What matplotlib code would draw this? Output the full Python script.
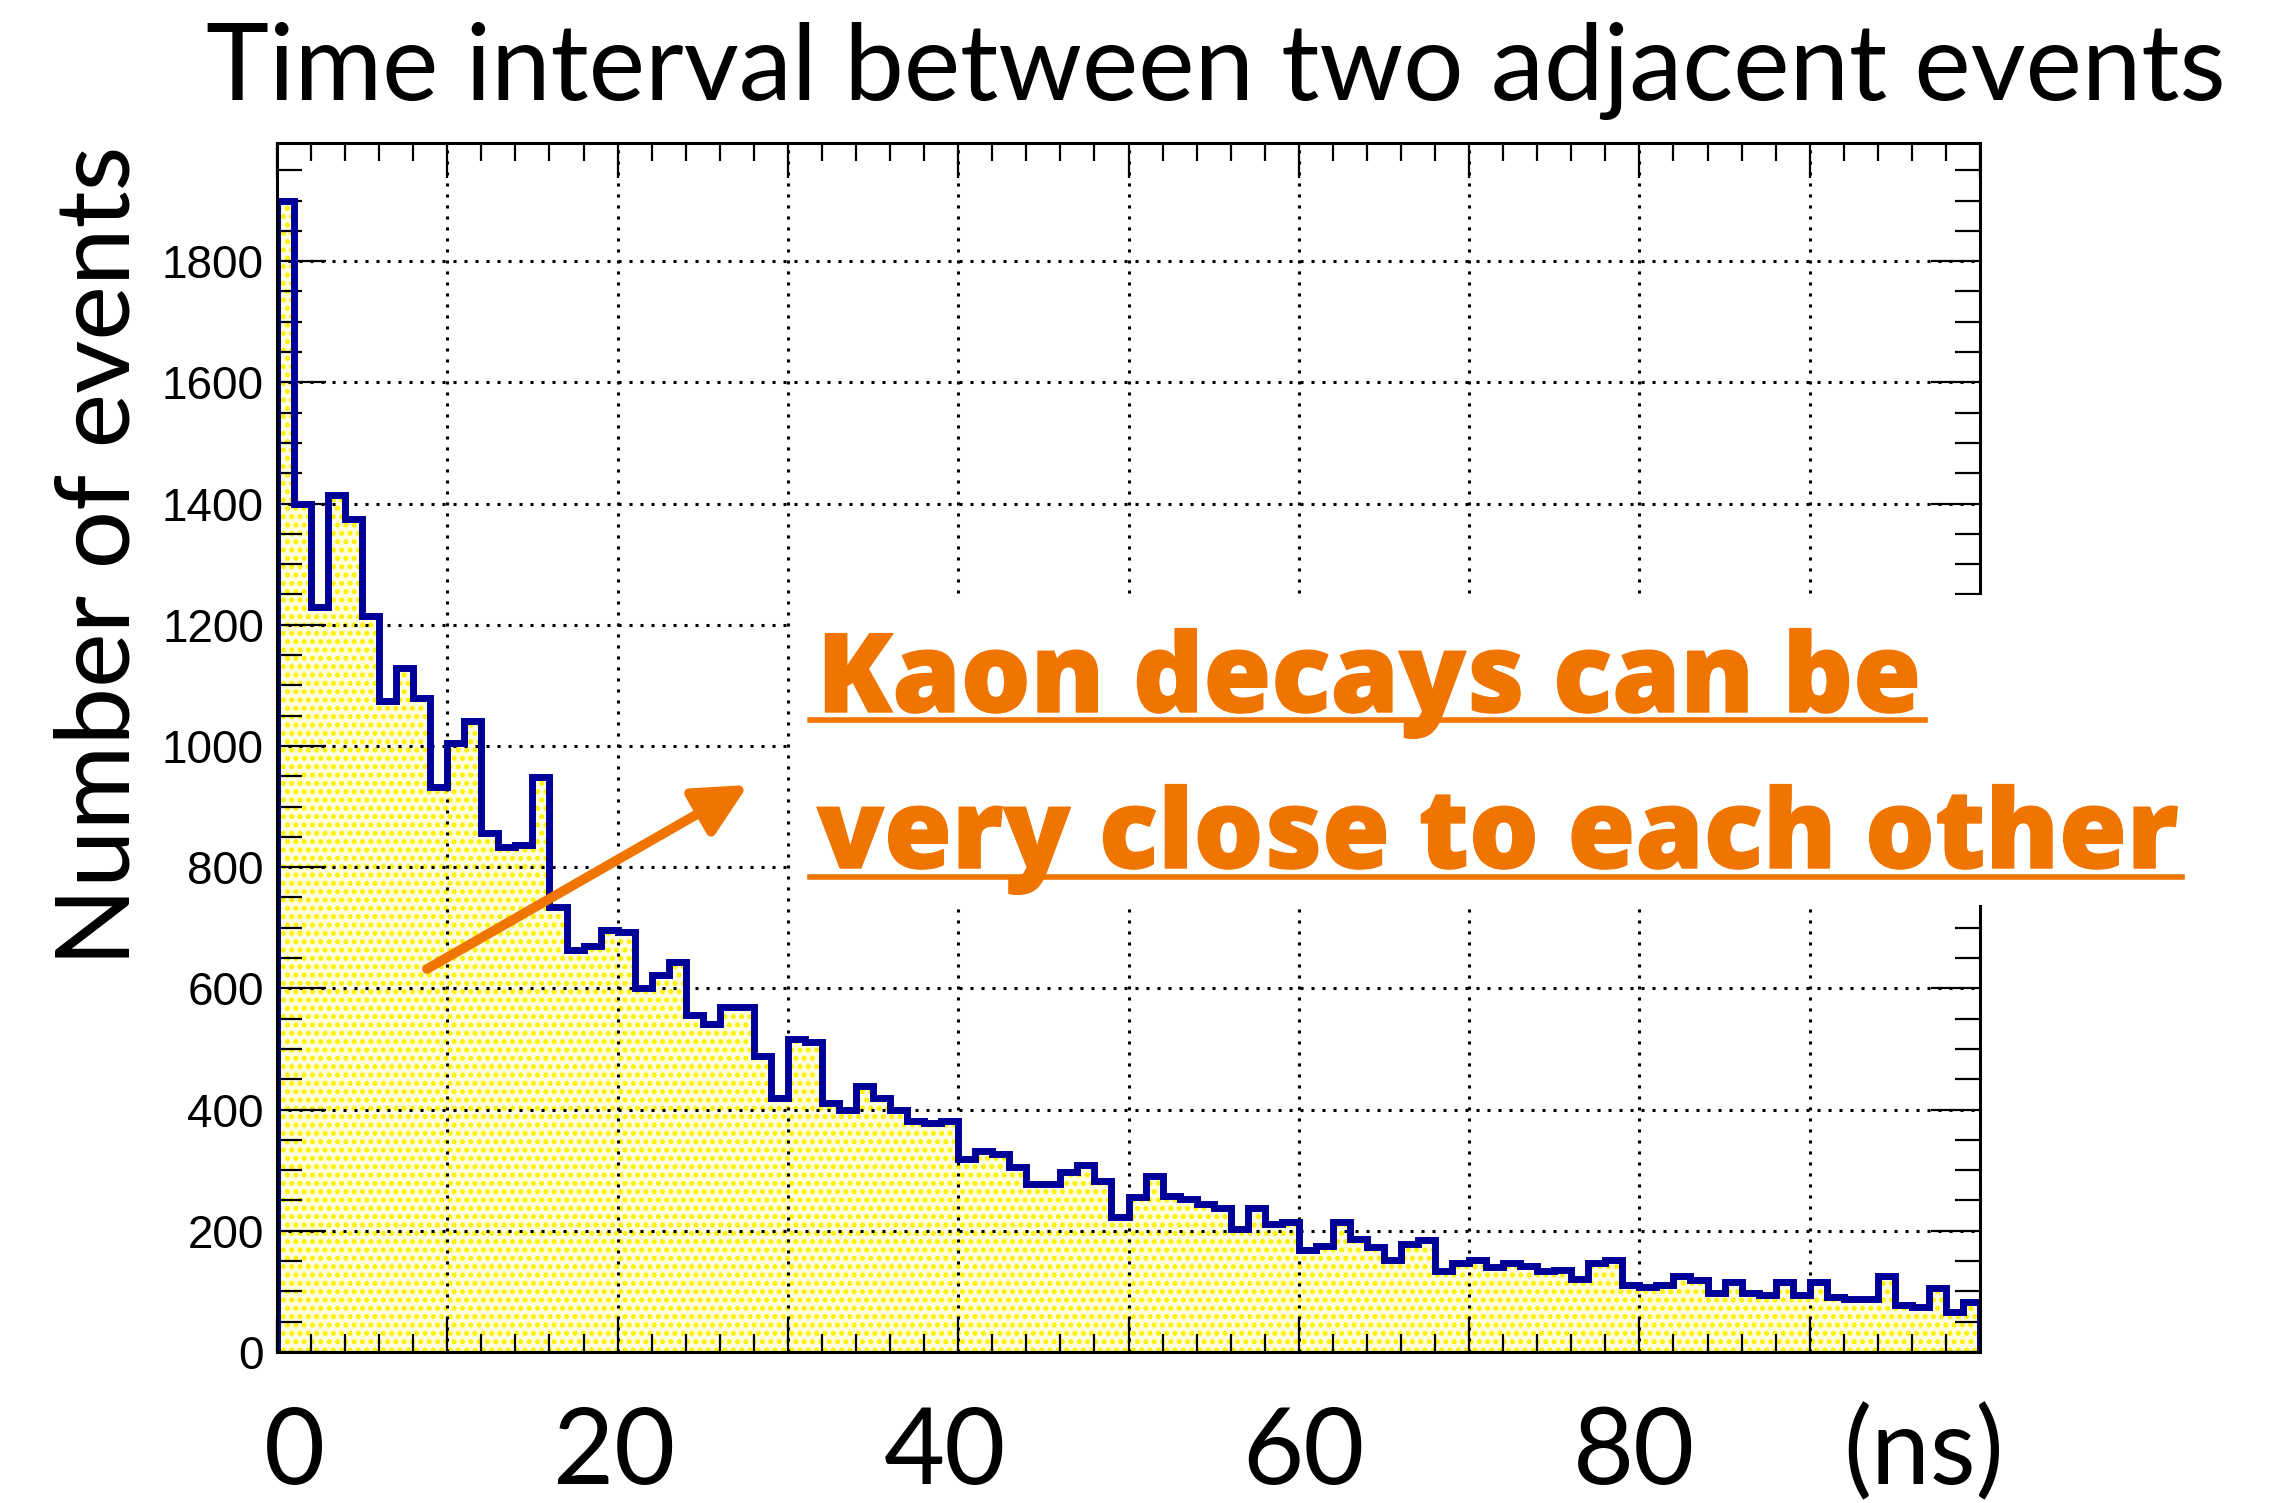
import numpy as np
import matplotlib.pyplot as plt
from matplotlib.ticker import MultipleLocator
from matplotlib.patches import Rectangle, FancyArrowPatch
from matplotlib.lines import Line2D
import matplotlib.transforms as mtransforms
import matplotlib.patheffects as pe

# # **data (1 ns bins, 0-100 ns)**

bin_edges = np.arange(0, 101, 1)
counts = [1900, 1400, 1230, 1414, 1375, 1214, 1075, 1128, 1080, 932,
          1005, 1042, 856, 834, 836, 948, 734, 663, 670, 697,
          693, 600, 622, 643, 556, 541, 569, 569, 489, 419,
          517, 511, 411, 400, 439, 419, 400, 381, 378, 381,
          319, 331, 327, 306, 278, 278, 297, 308, 282, 223,
          256, 290, 258, 252, 245, 237, 203, 237, 211, 214,
          168, 175, 214, 186, 173, 151, 178, 185, 134, 147,
          152, 141, 147, 142, 133, 135, 121, 147, 151, 111,
          108, 110, 125, 118, 97, 116, 97, 94, 116, 94,
          116, 91, 88, 87, 125, 78, 74, 106, 66, 82]
y_ticks = [0, 200, 400, 600, 800, 1000, 1200, 1400, 1600, 1800]
x_labels = ['0', '20', '40', '60', '80', '(ns)']
x_label_pos = [1.0, 19.8, 39.2, 60.3, 79.7, 96.7]

title = 'Time interval between two adjacent events'
ylabel = 'Number of events'
note = ['Kaon decays can be', 'very close to each other']

# # **figure layout (pixel coords of the reference)**

W, H = 2295, 1503
def fx(px):
    return px / W
def fy(py):
    return 1 - py / H

orange = '#F07500'
navy = '#000099'

plt.rcParams['hatch.linewidth'] = 2.4

fig = plt.figure(figsize=(W / 100, H / 100), dpi=100)
ax = fig.add_axes([fx(277), fy(1352), fx(1980) - fx(277), fy(143) - fy(1352)])

ax.stairs(counts, bin_edges, fill=True, facecolor='#FFFFE0', edgecolor='#FFF000',
          hatch='..', linewidth=0, zorder=1)
ax.stairs(counts, bin_edges, fill=False, color=navy, linewidth=5, zorder=2)

ax.set_xlim(0, 100)
ax.set_ylim(0, 1.05 * max(counts))

ax.set_xticks(np.arange(0, 101, 10))
ax.xaxis.set_minor_locator(MultipleLocator(2))
ax.set_yticks(y_ticks, [str(v) for v in y_ticks])
ax.yaxis.set_minor_locator(MultipleLocator(50))
ax.set_axisbelow('line')
ax.grid(True, which='major', color='black', linestyle=(0, (1, 2.6)), linewidth=2.2)

ax.tick_params(which='both', direction='in', top=True, right=True, width=1.6,
               labelbottom=False, pad=9.4)
ax.tick_params(axis='x', which='major', length=25)
ax.tick_params(axis='x', which='minor', length=13)
ax.tick_params(axis='y', which='major', length=35)
ax.tick_params(axis='y', which='minor', length=18)
for lab in ax.get_yticklabels():
    lab.set_fontfamily('Liberation Sans')
    lab.set_fontsize(33)
for sp in ax.spines.values():
    sp.set_linewidth(2.2)

# big slide labels under the axis
blend = mtransforms.blended_transform_factory(ax.transData, fig.transFigure)
for lab, xp in zip(x_labels, x_label_pos):
    ax.text(xp, fy(1484), lab, transform=blend, ha='center', va='baseline',
            fontsize=76, family='Lato', clip_on=False)

# title and y label, fitted to reference widths
renderer = fig.canvas.get_renderer()

t = fig.text(fx(206), fy(100), title, ha='left', va='baseline', fontsize=76, family='Lato')
w = t.get_window_extent(renderer).width
t.set_fontsize(76 * 2019 / w)

yl = fig.text(fx(129), fy(966), ylabel, rotation=90, rotation_mode='anchor',
              ha='left', va='baseline', fontsize=76, family='Lato')
h = yl.get_window_extent(renderer).height
yl.set_fontsize(76 * 820 / h)

# white box behind the note
fig.add_artist(Rectangle((fx(792), fy(905)), fx(2260) - fx(792), fy(595) - fy(905),
                         transform=fig.transFigure, facecolor='white',
                         edgecolor='none', zorder=2))

heavy = [pe.withStroke(linewidth=1.0, foreground=orange)]
t1 = fig.text(fx(817), fy(712), note[0], ha='left', va='baseline', fontsize=76,
              weight=800, color=orange, family='Open Sans', zorder=3, path_effects=heavy)
t2 = fig.text(fx(817), fy(868), note[1], ha='left', va='baseline', fontsize=76,
              weight=800, color=orange, family='Open Sans', zorder=3, path_effects=heavy)
w2 = t2.get_window_extent(renderer).width
fs = 76 * 1360 / w2
t1.set_fontsize(fs)
t2.set_fontsize(fs)
for tt, uy in [(t1, 720), (t2, 877)]:
    bb = tt.get_window_extent(renderer)
    fig.add_artist(Line2D([fx(810), (bb.x1 + 4) / W], [fy(uy), fy(uy)],
                          transform=fig.transFigure, color=orange, linewidth=4, zorder=3))

arrow = FancyArrowPatch((fx(427), fy(969)), (fx(748), fy(785)), transform=fig.transFigure,
                        arrowstyle='-|>,head_length=1.6,head_width=0.8', mutation_scale=20,
                        color=orange, linewidth=7, shrinkA=0, shrinkB=0, zorder=3)
fig.add_artist(arrow)

fig.savefig('out.png', dpi=100)
